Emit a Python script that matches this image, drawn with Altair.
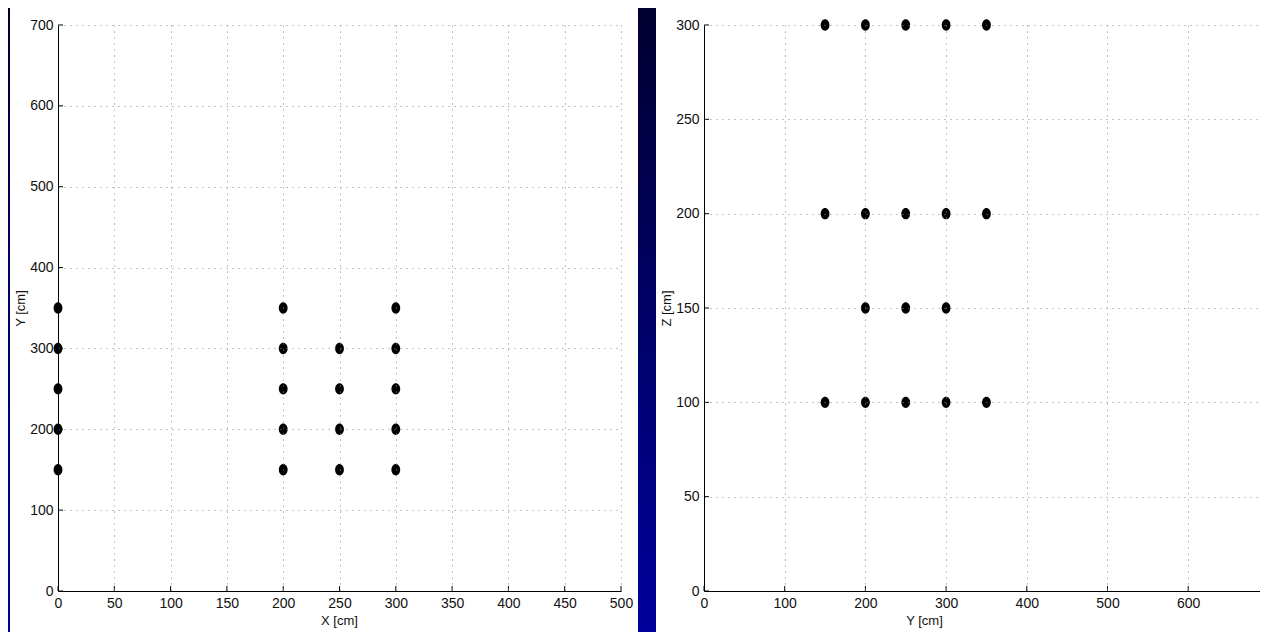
import altair as alt
import pandas as pd

# Left panel: X-Y sensor positions [cm]
left_x = [0, 0, 0, 0, 0, 200, 200, 200, 200, 200, 250, 250, 250, 250, 300, 300, 300, 300, 300]
left_y = [150, 200, 250, 300, 350, 150, 200, 250, 300, 350, 150, 200, 250, 300, 150, 200, 250, 300, 350]
# Right panel: Y-Z sensor positions [cm]
right_y = [150, 200, 250, 300, 350, 150, 200, 250, 300, 350, 200, 250, 300, 150, 200, 250, 300, 350]
right_z = [300, 300, 300, 300, 300, 200, 200, 200, 200, 200, 150, 150, 150, 100, 100, 100, 100, 100]

left_xticks = [0, 50, 100, 150, 200, 250, 300, 350, 400, 450, 500]
left_yticks = [0, 100, 200, 300, 400, 500, 600, 700]
right_xticks = [0, 100, 200, 300, 400, 500, 600]   # 700 is cut off by the window edge
right_yticks = [0, 50, 100, 150, 200, 250, 300]

FONT = "Liberation Sans"
ELLIPSE = "M-0.77,0 A0.77,1 0 1,1 0.77,0 A0.77,1 0 1,1 -0.77,0 Z"

gradient = alt.LinearGradient(
    gradient="linear",
    stops=[alt.GradientStop(color="#000030", offset=0),
           alt.GradientStop(color="#000068", offset=0.5),
           alt.GradientStop(color="#00009c", offset=1)],
    x1=0, x2=0, y1=0, y2=1,
)


def panel(xs, ys, xt, yt, xdom, ydom, xtitle, ytitle, w, h, xtitle_x, white_right, bg_right):
    pts = pd.DataFrame({"x": xs, "y": ys})
    xtdf = pd.DataFrame({"x": xt})
    ytdf = pd.DataFrame({"y": yt})
    xscale = alt.Scale(domain=xdom, nice=False, zero=False)
    yscale = alt.Scale(domain=ydom, nice=False, zero=False)
    common = dict(ticks=False, grid=True, gridDash=[1, 5], gridColor="#8a8a8a",
                  gridWidth=1, domainColor="black", domainWidth=1,
                  labelFont=FONT, labelFontSize=14, labelColor="#111111",
                  labelPadding=5, labelFlush=False, labelOverlap=False,
                  titleFont=FONT, titleFontSize=13, titleFontWeight="normal",
                  titleColor="#111111", titleBaseline="middle", titleAlign="center",
                  zindex=1)
    xaxis = alt.Axis(values=xt, title=xtitle, titleX=xtitle_x, titleY=29, **common)
    yaxis = alt.Axis(values=yt, title=ytitle, titleX=-38, titleY=h / 2, titleAngle=270, **common)

    layers = []
    base = alt.Chart(pd.DataFrame({"a": [0]}))
    if bg_right is not None:
        layers.append(base.mark_rect(fill=gradient).encode(
            x=alt.value(-50), x2=alt.value(bg_right), y=alt.value(-17), y2=alt.value(h + 41)))
    layers.append(base.mark_rect(fill="white").encode(
        x=alt.value(-48), x2=alt.value(w + white_right), y=alt.value(-17), y2=alt.value(h + 41)))
    layers.append(alt.Chart(xtdf).mark_rule(color="black", strokeWidth=1).encode(
        x=alt.X("x:Q", scale=xscale, axis=xaxis), y=alt.value(h), y2=alt.value(h - 5)))
    layers.append(alt.Chart(ytdf).mark_rule(color="black", strokeWidth=1).encode(
        y=alt.Y("y:Q", scale=yscale, axis=yaxis), x=alt.value(0), x2=alt.value(5)))
    layers.append(alt.Chart(pts).mark_point(shape=ELLIPSE, filled=True, color="black",
                                            opacity=1, size=130).encode(
        x=alt.X("x:Q", scale=xscale, axis=xaxis),
        y=alt.Y("y:Q", scale=yscale, axis=yaxis)))
    return alt.layer(*layers).properties(width=w, height=h)


left = panel(left_x, left_y, left_xticks, left_yticks, [0, 500], [0, 700],
             "X [cm]", "Y [cm]", 563, 566, 281, 17, 1202)
right = panel(right_y, right_z, right_xticks, right_yticks, [0, 689], [0, 300],
              "Y [cm]", "Z [cm]", 556, 566, 220, 0, None)

chart = alt.hconcat(left, right, spacing=83, bounds="flush").properties(
    padding=0, background="#000066"
).configure_view(stroke=None)

chart.save("out.html", embed_options={"renderer": "svg", "actions": False})
